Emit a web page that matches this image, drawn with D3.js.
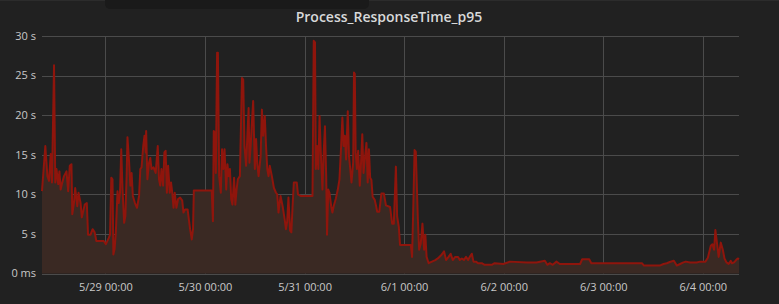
<!DOCTYPE html>
<html>
<head>
<meta charset="utf-8">
<script src="https://cdn.jsdelivr.net/npm/d3@7"></script>
<style>
  html, body { margin: 0; padding: 0; background: #212121; }
  svg { display: block; }
</style>
</head>
<body>
<script>
const width = 779;
const height = 304;

const title = 'Process_ResponseTime_p95';
// hours counted from 5/28 00:00
const startHour = 8.6;
const endHour = 176.6;
const yTicks = [0, 5, 10, 15, 20, 25, 30];

const hours = [
  8.6, 9.4, 9.9, 10.3, 10.7, 11.0, 11.5, 11.8, 12.1, 12.5, 12.8, 13.1, 13.4, 13.9, 14.5, 14.9,
  15.3, 15.7, 15.9, 16.3, 16.6, 17.1, 17.4, 17.9, 18.2, 18.9, 19.4, 19.7, 20.3, 20.8, 21.3, 21.7,
  23.5, 24.0, 24.7, 25.0, 25.3, 25.6, 25.8, 26.1, 26.4, 26.8, 27.1, 27.4, 27.7, 28.0, 28.4, 28.7,
  29.0, 29.2, 29.6, 29.9, 30.2, 30.5, 31.0, 31.5, 32.0, 32.3, 32.6, 33.0, 33.3, 33.6, 33.7, 34.0,
  34.4, 34.7, 35.0, 35.5, 36.0, 36.5, 36.8, 37.1, 37.4, 37.8, 38.1, 38.4, 38.7, 39.0, 39.4, 39.7,
  40.0, 40.3, 40.6, 41.0, 41.4, 41.9, 42.4, 42.7, 43.1, 43.7, 44.0, 44.3, 44.7, 45.0, 45.2, 49.5,
  49.8, 50.0, 50.2, 50.5, 50.8, 51.0, 51.3, 51.7, 52.0, 52.3, 52.6, 53.0, 53.3, 53.6, 53.9, 54.2,
  54.5, 54.9, 55.2, 55.5, 55.8, 56.3, 56.8, 57.1, 57.4, 57.8, 58.1, 58.4, 58.6, 58.9, 59.2, 59.5,
  59.9, 60.2, 60.5, 60.8, 61.3, 61.6, 61.9, 62.3, 62.6, 62.9, 63.2, 63.5, 64.0, 64.5, 65.0, 65.3,
  65.6, 66.1, 66.6, 67.1, 67.4, 67.7, 68.0, 68.4, 68.7, 69.0, 69.3, 70.0, 70.3, 70.9, 73.8, 74.1,
  74.4, 74.6, 74.9, 75.2, 75.5, 75.8, 76.2, 76.5, 76.8, 77.1, 77.3, 77.6, 77.9, 78.3, 78.6, 78.9,
  79.4, 79.9, 80.3, 80.7, 81.0, 81.3, 81.6, 81.9, 82.3, 82.6, 82.9, 83.2, 83.6, 83.8, 84.0, 84.2,
  84.5, 84.8, 85.2, 85.5, 85.8, 86.1, 86.4, 86.8, 87.1, 87.4, 87.7, 88.0, 88.3, 88.8, 89.1, 89.4,
  89.9, 90.4, 91.0, 91.5, 92.5, 93.0, 93.4, 93.9, 94.2, 94.6, 94.9, 97.5, 97.8, 98.1, 98.4, 98.7,
  99.2, 99.5, 99.9, 100.3, 100.7, 101.0, 101.3, 101.8, 102.6, 103.4, 104.0, 104.8, 105.5, 106.0, 106.6, 107.1,
  107.6, 108.2, 108.9, 109.3, 109.8, 110.3, 110.8, 111.3, 111.7, 112.2, 112.6, 113.2, 113.7, 114.6, 115.3, 117.0,
  117.7, 119.8, 121.4, 125.4, 127.8, 129.8, 130.4, 131.0, 131.7, 132.6, 133.4, 138.3, 138.8, 140.5, 141.0, 153.2,
  153.7, 157.5, 158.4, 159.2, 159.9, 160.9, 161.6, 162.4, 163.2, 163.8, 164.8, 166.4, 167.2, 168.5, 169.1, 169.8,
  170.2, 170.6, 170.9, 171.4, 171.7, 172.2, 172.7, 173.1, 173.6, 174.1, 174.6, 174.9, 175.4, 175.9, 176.3, 176.6
];

const seconds = [
  10.4, 16.1, 12.3, 11.7, 15.1, 11.5, 26.3, 11.5, 13.2, 11.3, 12.9, 10.6, 11.3, 12.3, 12.9, 10.4,
  13.6, 13.8, 7.5, 8.9, 10.8, 8.5, 10.2, 8.9, 7.1, 8.7, 8.9, 4.9, 4.9, 5.6, 5.2, 4.1,
  4.1, 3.7, 4.5, 4.9, 12.1, 11.9, 2.4, 3.1, 5.2, 10.4, 8.9, 10.2, 15.7, 10.8, 6.4, 7.3,
  12.3, 17.2, 14.0, 11.1, 12.7, 9.8, 8.9, 8.3, 9.8, 13.2, 13.4, 16.1, 17.4, 15.3, 18.0, 11.9,
  14.0, 14.6, 13.2, 13.4, 12.7, 16.1, 11.9, 11.1, 13.2, 11.1, 15.3, 15.5, 10.2, 13.6, 10.2, 11.5,
  10.2, 8.3, 10.2, 8.3, 9.4, 9.6, 9.2, 7.7, 8.1, 8.1, 6.8, 5.6, 4.3, 5.6, 10.5, 10.5,
  6.6, 18.0, 17.8, 12.7, 27.9, 27.9, 12.3, 10.2, 15.7, 13.2, 15.7, 10.6, 13.8, 12.3, 13.2, 9.4,
  8.7, 12.1, 8.7, 10.6, 11.9, 12.3, 24.7, 24.5, 16.1, 13.6, 17.4, 20.9, 14.0, 16.1, 19.1, 21.8,
  13.2, 17.0, 13.8, 12.3, 14.8, 20.7, 17.4, 19.9, 16.1, 13.2, 12.3, 13.6, 12.3, 10.8, 10.2, 10.0,
  7.7, 9.8, 8.5, 6.8, 5.6, 6.6, 9.6, 5.4, 5.2, 8.5, 11.5, 11.5, 10.0, 9.8, 9.8, 29.4,
  29.2, 13.2, 16.1, 13.2, 19.9, 15.3, 10.6, 15.3, 18.6, 12.3, 4.9, 10.6, 10.2, 8.5, 7.7, 8.5,
  9.4, 10.6, 11.9, 16.1, 19.7, 16.1, 17.4, 14.4, 20.5, 14.8, 13.2, 11.5, 14.0, 25.4, 25.2, 15.3,
  13.2, 15.5, 11.1, 14.0, 17.6, 12.7, 14.4, 16.5, 11.5, 15.7, 12.1, 11.8, 9.7, 9.3, 8.6, 7.8,
  7.8, 10.1, 10.1, 8.6, 8.4, 6.3, 6.3, 13.5, 7.2, 5.9, 3.6, 3.6, 2.1, 8.6, 15.6, 15.4,
  6.8, 3.0, 3.8, 6.3, 3.0, 4.9, 2.1, 1.3, 1.5, 1.7, 1.9, 2.3, 2.8, 1.7, 2.1, 2.5,
  1.7, 2.1, 2.1, 1.7, 1.9, 1.7, 2.1, 1.7, 2.1, 2.5, 1.5, 1.5, 1.3, 1.3, 1.1, 1.1,
  1.3, 1.2, 1.5, 1.4, 1.4, 1.6, 1.1, 1.3, 1.1, 1.5, 1.2, 1.2, 1.8, 1.8, 1.3, 1.3,
  1.0, 1.0, 1.2, 1.3, 1.45, 1.6, 1.0, 1.2, 1.4, 1.5, 1.4, 1.4, 1.5, 1.5, 2.0, 3.5,
  3.7, 3.0, 5.5, 3.4, 2.1, 3.9, 3.0, 1.9, 1.4, 1.2, 1.6, 1.3, 1.4, 1.7, 1.9, 1.8
];

const base = new Date(2018, 4, 28, 0, 0);
const toDate = h => new Date(base.getTime() + h * 3600 * 1000);
const data = hours.map((h, i) => ({ t: toDate(h), v: seconds[i] }));

const margin = { top: 36, right: 40, bottom: 30.5, left: 42 };

const svg = d3.select('body')
  .append('svg')
  .attr('width', width)
  .attr('height', height);

svg.append('rect')
  .attr('width', width)
  .attr('height', height)
  .attr('fill', '#212121');

// top strip and tab
svg.append('rect')
  .attr('x', 0)
  .attr('y', 0)
  .attr('width', width)
  .attr('height', 1)
  .attr('fill', '#2c2c2c');
svg.append('rect')
  .attr('x', 105)
  .attr('y', -6)
  .attr('width', 264)
  .attr('height', 15)
  .attr('rx', 5)
  .attr('fill', '#1a1a1a');

const x = d3.scaleTime()
  .domain([toDate(startHour), toDate(endHour)])
  .range([margin.left, width - margin.right]);

const y = d3.scaleLinear()
  .domain([0, 30])
  .range([height - margin.bottom, margin.top]);

// grid
svg.selectAll('hgrid')
  .data(yTicks)
  .enter()
  .append('line')
  .attr('x1', margin.left)
  .attr('x2', width - margin.right)
  .attr('y1', d => Math.round(y(d)) + 0.5)
  .attr('y2', d => Math.round(y(d)) + 0.5)
  .attr('stroke', '#4b4b4b')
  .attr('stroke-width', 1);

const dayTicks = x.ticks(d3.timeDay.every(1));
svg.selectAll('vgrid')
  .data(dayTicks)
  .enter()
  .append('line')
  .attr('x1', d => Math.floor(x(d)) + 0.5)
  .attr('x2', d => Math.floor(x(d)) + 0.5)
  .attr('y1', margin.top)
  .attr('y2', height - margin.bottom)
  .attr('stroke', '#4b4b4b')
  .attr('stroke-width', 1);

// area + line
const area = d3.area()
  .x(d => x(d.t))
  .y0(y(0))
  .y1(d => y(d.v));

const line = d3.line()
  .x(d => x(d.t))
  .y(d => y(d.v));

svg.append('path')
  .datum(data)
  .attr('d', area)
  .attr('fill', '#3a2923');

svg.append('path')
  .datum(data)
  .attr('d', line)
  .attr('fill', 'none')
  .attr('stroke', '#8f150c')
  .attr('stroke-width', 2)
  .attr('stroke-linejoin', 'round');

// y labels
svg.selectAll('ylabels')
  .data(yTicks)
  .enter()
  .append('text')
  .attr('x', 36)
  .attr('y', d => y(d))
  .attr('dy', '0.35em')
  .attr('text-anchor', 'end')
  .attr('font-family', 'Open Sans')
  .attr('font-size', 11)
  .attr('fill', '#c8c8c8')
  .text(d => d === 0 ? '0 ms' : d + ' s');

// x labels
const fmt = d3.timeFormat('%-m/%-d %H:%M');
svg.selectAll('xlabels')
  .data(dayTicks)
  .enter()
  .append('text')
  .attr('x', d => x(d))
  .attr('y', 291)
  .attr('text-anchor', 'middle')
  .attr('font-family', 'Open Sans')
  .attr('font-size', 11)
  .attr('fill', '#c8c8c8')
  .text(d => fmt(d));

svg.append('text')
  .attr('x', 389)
  .attr('y', 22)
  .attr('text-anchor', 'middle')
  .attr('font-family', 'Open Sans')
  .attr('font-size', 14)
  .attr('font-weight', 600)
  .attr('fill', '#d8d9da')
  .text(title);
</script>
</body>
</html>
